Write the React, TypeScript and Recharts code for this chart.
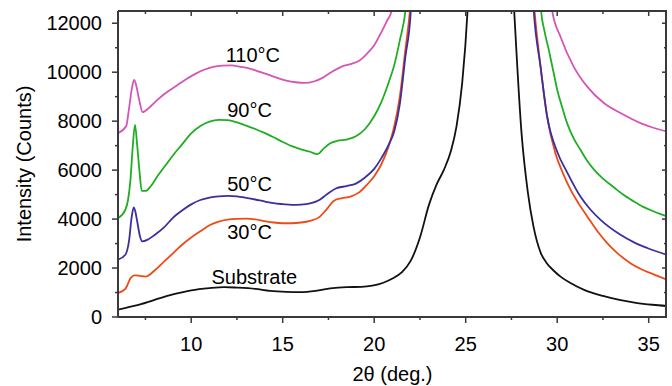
import React from 'react';
import { LineChart, Line, XAxis, YAxis, ReferenceDot, Label } from 'recharts';

// 2θ ticks (major every 5°, minor every 2.5°)
const xTicks = [7.5, 10, 12.5, 15, 17.5, 20, 22.5, 25, 27.5, 30, 32.5, 35];
// intensity ticks (major every 2000, minor every 1000)
const yTicks = [0, 1000, 2000, 3000, 4000, 5000, 6000, 7000, 8000, 9000, 10000, 11000, 12000];

// [2θ, counts]
const substrate = [
  [6, 300], [7, 470], [8, 700], [9, 920], [10, 1090], [11, 1180], [11.8, 1220], [12.5, 1200],
  [13.5, 1150], [14.3, 1070], [15.2, 1030], [16, 1020], [16.8, 1070], [17.6, 1170],
  [18.5, 1220], [19.3, 1230], [19.9, 1280], [20.5, 1400], [21, 1570], [21.5, 1820],
  [22, 2300], [22.5, 3250], [23, 4600], [23.4, 5400], [23.8, 6000], [24.2, 6800],
  [24.5, 7800], [24.8, 9500], [25.1, 12500], [25.3, 16000], [27.4, 16000], [27.65, 12500],
  [28.05, 7520], [28.4, 5070], [28.7, 3710], [29.1, 2620], [29.4, 2230], [29.8, 1900],
  [30.2, 1640], [30.7, 1400], [31.5, 1100], [32.5, 860], [33.4, 700], [34.3, 580],
  [35.2, 500], [36, 450],
];

const t30 = [
  [6, 980], [6.4, 1150], [6.7, 1600], [6.9, 1700], [7.2, 1680], [7.5, 1650], [8, 1900],
  [8.5, 2250], [9, 2600], [9.5, 2950], [10, 3250], [10.5, 3500], [11, 3750], [11.5, 3900],
  [12, 3980], [12.5, 4010], [13, 4020], [13.5, 3990], [14, 3920], [14.5, 3860], [15, 3830],
  [15.5, 3830], [16, 3860], [16.5, 3930], [17, 4080], [17.4, 4400], [17.8, 4750],
  [18.2, 4850], [18.7, 4920], [19.2, 5100], [19.6, 5400], [20, 5750], [20.4, 6250],
  [20.8, 7000], [21.1, 7800], [21.4, 9000], [21.7, 10900], [21.95, 12500], [22.1, 14000],
  [28.6, 14000], [28.76, 12500], [29.09, 10230], [29.45, 8190], [29.9, 6690], [30.3, 5900],
  [30.73, 5200], [31.2, 4600], [31.64, 4110], [32.2, 3500], [32.73, 3020], [33.3, 2600],
  [34, 2200], [34.6, 1950], [35.3, 1730], [36, 1520],
];

const t50 = [
  [6, 2340], [6.4, 2540], [6.6, 3100], [6.75, 4100], [6.86, 4480], [6.95, 4300], [7.05, 3900],
  [7.2, 3300], [7.32, 3090], [7.6, 3150], [8, 3350], [8.5, 3650], [9, 4050], [9.5, 4350],
  [10, 4600], [10.5, 4780], [11, 4880], [11.5, 4930], [12, 4950], [12.5, 4930], [13, 4870],
  [13.5, 4800], [14, 4720], [14.5, 4650], [15, 4610], [15.5, 4580], [16, 4590], [16.5, 4640],
  [17, 4780], [17.4, 5000], [17.9, 5250], [18.5, 5350], [19, 5450], [19.5, 5700], [20, 6050],
  [20.4, 6500], [20.8, 7050], [21.1, 7600], [21.4, 8700], [21.7, 10600], [22, 12500],
  [22.1, 14000], [28.6, 14000], [28.72, 12500], [29.09, 10230], [29.45, 8190], [30, 6750],
  [30.55, 5900], [31.27, 4920], [31.8, 4400], [32.37, 3970], [33.46, 3360], [34.2, 3050],
  [34.92, 2820], [36, 2540],
];

const t90 = [
  [6, 4040], [6.4, 4380], [6.55, 4790], [6.68, 5600], [6.8, 6900], [6.93, 7850], [7.05, 7000],
  [7.18, 5900], [7.3, 5150], [7.5, 5150], [7.8, 5350], [8.2, 5800], [8.6, 6200], [9, 6600],
  [9.5, 7050], [10, 7500], [10.5, 7800], [11, 7980], [11.5, 8050], [12, 8040], [12.5, 7950],
  [13, 7820], [13.5, 7680], [14, 7520], [14.5, 7340], [15, 7150], [15.5, 6980], [16, 6850],
  [16.5, 6750], [16.9, 6650], [17.2, 6850], [17.6, 7100], [18, 7200], [18.5, 7250],
  [19, 7380], [19.5, 7680], [20, 8200], [20.4, 8800], [20.8, 9600], [21.1, 10300],
  [21.4, 11300], [21.71, 12500], [21.9, 14000], [29, 14000], [29.12, 12500], [29.3, 11700],
  [29.54, 10910], [29.8, 10000], [30, 9280], [30.3, 8500], [30.55, 7900], [30.9, 7300],
  [31.27, 6830], [31.6, 6420], [32, 6030], [32.5, 5650], [33.09, 5300], [33.6, 5000],
  [34.19, 4720], [34.7, 4500], [35.28, 4310], [36, 4110],
];

const t110 = [
  [6, 7510], [6.45, 7800], [6.6, 8500], [6.75, 9300], [6.88, 9690], [7, 9450], [7.15, 8900],
  [7.35, 8370], [7.7, 8550], [8.2, 8900], [8.7, 9200], [9.2, 9450], [9.7, 9700], [10.2, 9920],
  [10.7, 10100], [11.2, 10220], [11.7, 10270], [12.2, 10280], [12.7, 10220], [13.2, 10150],
  [13.7, 10020], [14.2, 9900], [14.7, 9770], [15.2, 9660], [15.7, 9590], [16.2, 9560],
  [16.7, 9620], [17.2, 9780], [17.7, 10020], [18.2, 10220], [18.7, 10330], [19.2, 10480],
  [19.6, 10750], [20, 11100], [20.4, 11650], [20.7, 12100], [20.95, 12500], [21.2, 14000],
  [29.6, 14000], [29.73, 12500], [30.18, 11450], [30.9, 10230], [31.64, 9410], [32.55, 8740],
  [33.46, 8330], [34.55, 7920], [35.3, 7720], [36, 7580],
];

const FONT = 'Arial, "Liberation Sans", Helvetica, sans-serif';
const AXIS = '#3a3a3a';
const W = 672;
const H = 386;
const PLOT_LEFT = 118;
const PLOT_TOP = 11;
const PLOT_RIGHT = 667;
const PLOT_BOTTOM = 317;

const series = [
  { name: 'Substrate', color: '#111111', points: substrate },
  { name: '30°C', color: '#ee4a16', points: t30 },
  { name: '50°C', color: '#3b2e9e', points: t50 },
  { name: '90°C', color: '#1fae22', points: t90 },
  { name: '110°C', color: '#d455b6', points: t110 },
];

const curveLabels = [
  { text: '110°C', x: 13.37, y: 10720 },
  { text: '90°C', x: 13.19, y: 8450 },
  { text: '50°C', x: 13.19, y: 5430 },
  { text: '30°C', x: 13.19, y: 3460 },
  { text: 'Substrate', x: 13.45, y: 1620 },
];

const isMajorX = (v: number) => v % 5 === 0;
const isMajorY = (v: number) => v % 2000 === 0;

// bottom ticks point out, the ones on the top edge point in
function XTick(props: any) {
  const { x, y, payload } = props;
  const major = isMajorX(payload.value);
  return (
    <g>
      <rect x={x - 0.75} y={y} width={1.5} height={major ? 6 : 3} fill={AXIS} />
      <rect x={x - 0.75} y={PLOT_TOP} width={1.5} height={major ? 5 : 3} fill={AXIS} />
      {major && (
        <text x={x} y={y + 34} textAnchor="middle" fontSize={20} fontFamily={FONT} fill="#000">
          {payload.value}
        </text>
      )}
    </g>
  );
}

function YTick(props: any) {
  const { x, y, payload } = props;
  const major = isMajorY(payload.value);
  const len = major ? 6 : 3;
  return (
    <g>
      <rect x={x - len} y={y - 0.75} width={len} height={1.5} fill={AXIS} />
      <rect x={PLOT_RIGHT - (major ? 5 : 3)} y={y - 0.75} width={major ? 5 : 3} height={1.5} fill={AXIS} />
      {major && (
        <text x={x - 16} y={y + 7} textAnchor="end" fontSize={20} fontFamily={FONT} fill="#000">
          {payload.value}
        </text>
      )}
    </g>
  );
}

export default function App() {
  return (
    <div style={{ position: 'absolute', left: 0, top: 0, width: W, height: H, background: '#fff' }}>
      <LineChart
        width={W}
        height={H}
        margin={{ top: PLOT_TOP, right: W - PLOT_RIGHT, left: 0, bottom: 0 }}
      >
        <XAxis
          type="number"
          dataKey="x"
          domain={[6, 36]}
          ticks={xTicks}
          interval={0}
          allowDataOverflow
          height={H - PLOT_BOTTOM}
          tickSize={0}
          tickMargin={0}
          tickLine={false}
          tick={<XTick />}
          axisLine={{ stroke: AXIS, strokeWidth: 2 }}
        >
          <Label
            value="2θ (deg.)"
            position="insideBottom"
            offset={5}
            style={{ fontSize: 20, fontFamily: FONT, fill: '#000' }}
          />
        </XAxis>
        <YAxis
          type="number"
          domain={[0, 12500]}
          ticks={yTicks}
          interval={0}
          allowDataOverflow
          width={PLOT_LEFT}
          tickSize={0}
          tickMargin={0}
          tickLine={false}
          tick={<YTick />}
          axisLine={{ stroke: AXIS, strokeWidth: 2 }}
        >
          <Label
            value="Intensity (Counts)"
            angle={-90}
            position="insideLeft"
            offset={24}
            style={{ fontSize: 20, fontFamily: FONT, fill: '#000', textAnchor: 'middle' }}
          />
        </YAxis>
        {series.map((s) => (
          <Line
            key={s.name}
            data={s.points.map(([x, y]) => ({ x, y }))}
            dataKey="y"
            type="monotone"
            stroke={s.color}
            strokeWidth={1.8}
            dot={false}
            activeDot={false}
            isAnimationActive={false}
          />
        ))}
        {curveLabels.map((l) => (
          <ReferenceDot
            key={l.text}
            x={l.x}
            y={l.y}
            r={0}
            stroke="none"
            fill="none"
            label={{ value: l.text, position: 'center', fontSize: 20, fontFamily: FONT, fill: '#000' }}
          />
        ))}
      </LineChart>
      {/* closing frame on the top and right edges of the plot */}
      <div
        style={{
          position: 'absolute',
          left: PLOT_LEFT,
          top: PLOT_TOP - 1,
          width: PLOT_RIGHT - PLOT_LEFT,
          height: PLOT_BOTTOM - PLOT_TOP + 1,
          borderTop: `2px solid ${AXIS}`,
          borderRight: `2px solid ${AXIS}`,
          boxSizing: 'border-box',
          pointerEvents: 'none',
        }}
      />
    </div>
  );
}
